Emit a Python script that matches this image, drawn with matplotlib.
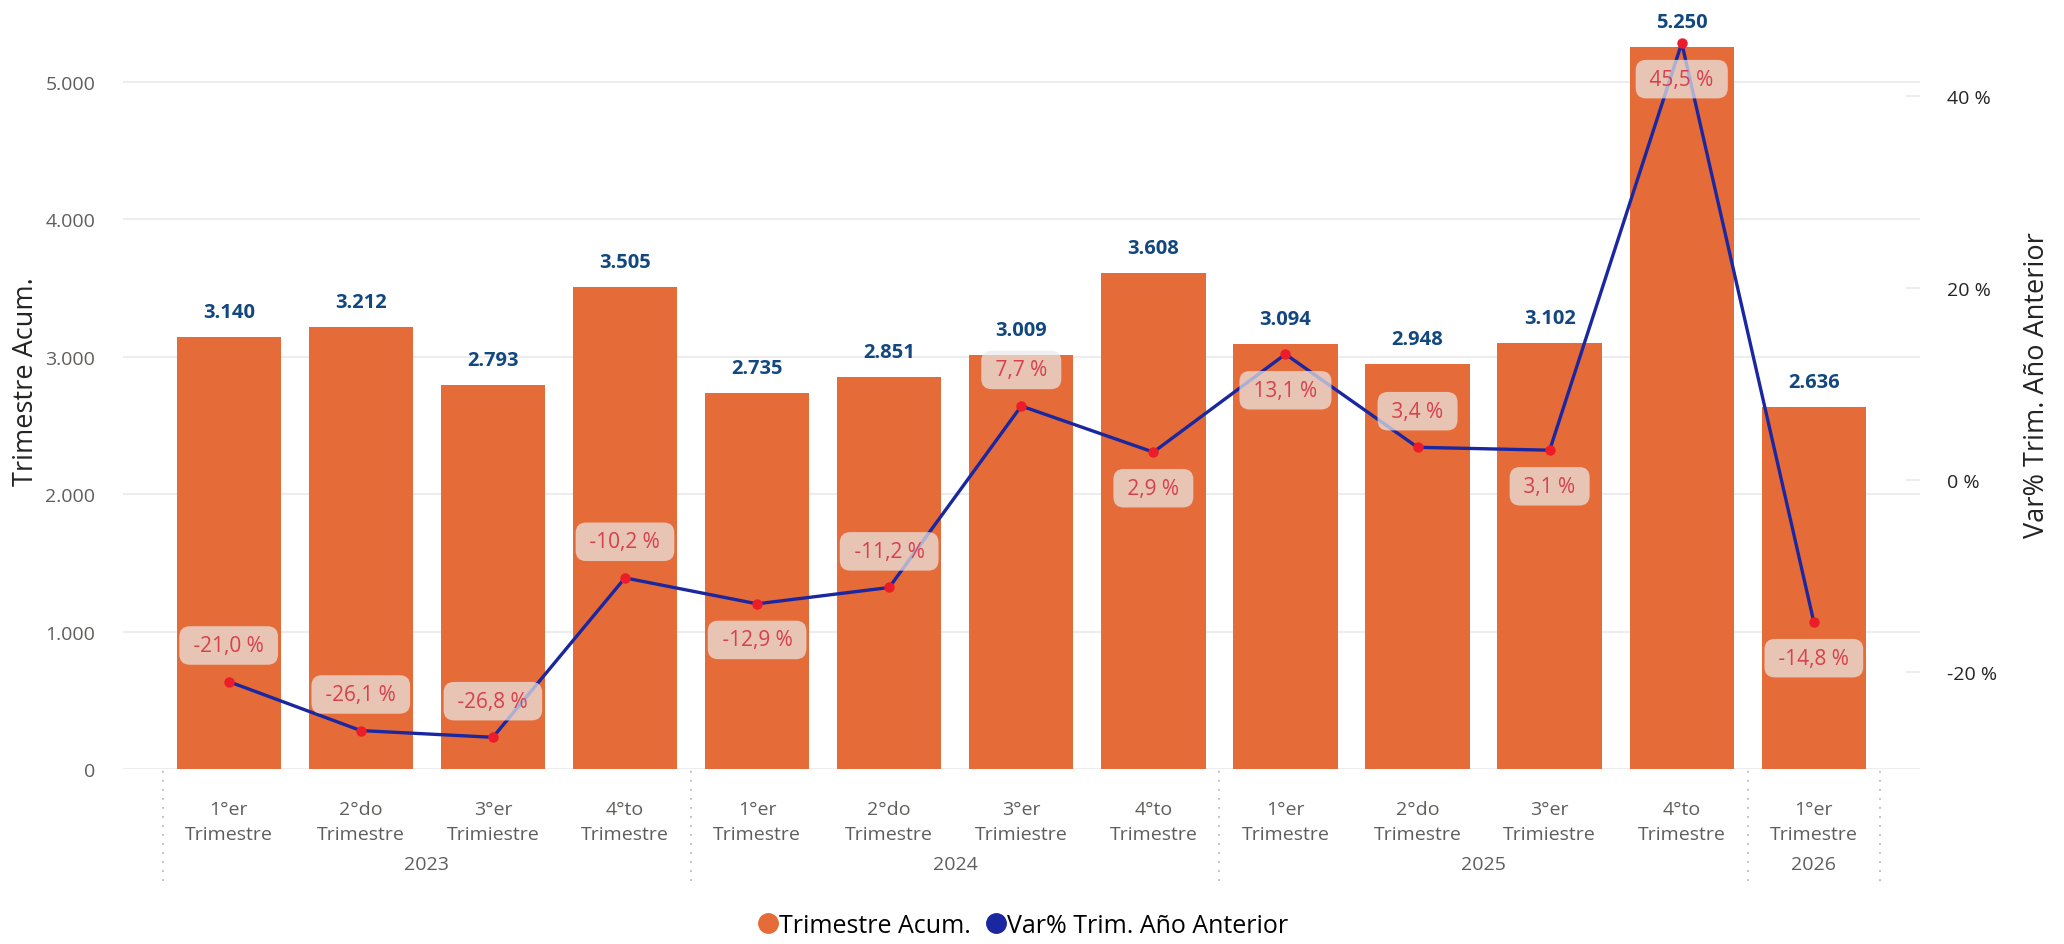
import matplotlib
matplotlib.use("Agg")
import matplotlib.pyplot as plt
from matplotlib.lines import Line2D
from matplotlib.ticker import FuncFormatter, FixedLocator

# ==========================================
# DATA
# ==========================================

quarters = [
    "1°er\nTrimestre", "2°do\nTrimestre", "3°er\nTrimiestre", "4°to\nTrimestre",
    "1°er\nTrimestre", "2°do\nTrimestre", "3°er\nTrimiestre", "4°to\nTrimestre",
    "1°er\nTrimestre", "2°do\nTrimestre", "3°er\nTrimiestre", "4°to\nTrimestre",
    "1°er\nTrimestre",
]

years = ["2023", "2024", "2025", "2026"]
year_sizes = [4, 4, 4, 1]

acum = [3140, 3212, 2793, 3505, 2735, 2851, 3009, 3608, 3094, 2948, 3102, 5250, 2636]

var_pct = [-21.0, -26.1, -26.8, -10.2, -12.9, -11.2, 7.7, 2.9, 13.1, 3.4, 3.1, 45.5, -14.8]

# where the % label sits relative to the point (1 = above, -1 = below)
label_side = [1, 1, 1, 1, -1, 1, 1, -1, -1, 1, -1, -1, -1]

# ==========================================
# STYLE
# ==========================================

plt.rcParams["font.family"] = ["Open Sans", "DejaVu Sans"]

BAR_COLOR = "#E56C38"
LINE_COLOR = "#1A27A0"
MARKER_COLOR = "#EC1C2A"
VALUE_COLOR = "#12487F"
PCT_COLOR = "#D8404E"
TICK_COLOR = "#605E5C"
GRID_COLOR = "#EDEDED"

def thousands(v, pos):
    return f"{int(v):,}".replace(",", ".")

def pct_text(v):
    return f" {v:.1f} % ".replace(".", ",")

# ==========================================
# FIGURE
# ==========================================

fig = plt.figure(figsize=(20.64, 9.45), dpi=100)
ax = fig.add_axes([0.0596, 0.1852, 0.8704, 0.7936])
ax2 = ax.twinx()

x = list(range(len(acum)))

ax.bar(x, acum, width=0.79, color=BAR_COLOR, zorder=2)

ax.set_xlim(-0.8, 12.8)
ax.set_ylim(0, 5455)
ax.yaxis.set_major_locator(FixedLocator([0, 1000, 2000, 3000, 4000, 5000]))
ax.yaxis.set_major_formatter(FuncFormatter(thousands))
ax.grid(axis="y", color=GRID_COLOR, linewidth=1.5, zorder=0)
ax.set_axisbelow(True)

for s in ax.spines.values():
    s.set_visible(False)
for s in ax2.spines.values():
    s.set_visible(False)

ax.tick_params(axis="y", length=0, pad=20, labelsize=14, labelcolor=TICK_COLOR)
ax.set_xticks(x)
ax.set_xticklabels(quarters, fontsize=14, color=TICK_COLOR, linespacing=1.5)
ax.tick_params(axis="x", length=0, pad=22)

# bar value labels
for xi, v in zip(x, acum):
    ax.annotate(thousands(v, None), (xi, v), xytext=(0, 18), textcoords="offset points",
                ha="center", va="center", fontsize=14.5, fontweight="bold", color=VALUE_COLOR)

# year labels and dotted separators
start = 0
bounds = [-0.5]
for yr, n in zip(years, year_sizes):
    center = start + (n - 1) / 2
    ax.text(center, -0.127, yr, transform=ax.get_xaxis_transform(),
            ha="center", va="center", fontsize=14, color=TICK_COLOR)
    start += n
    bounds.append(start - 0.5)

ax.vlines(bounds, -0.15, 0, transform=ax.get_xaxis_transform(), colors="#BDBBB9",
          linestyles=(0, (1, 4)), linewidth=1.3, clip_on=False)

# ==========================================
# LINE (SECONDARY AXIS)
# ==========================================

ax2.plot(x, var_pct, color=LINE_COLOR, linewidth=2.4, zorder=3)
ax2.plot(x, var_pct, "o", color=MARKER_COLOR, markersize=6.5, zorder=4)

ax2.set_ylim(-30.1, 48.0)
ax2.yaxis.set_major_locator(FixedLocator([-20, 0, 20, 40]))
ax2.yaxis.set_major_formatter(FuncFormatter(lambda v, p: f"{int(v)} %"))
ax2.tick_params(axis="y", direction="in", length=10, width=1.5, color=GRID_COLOR,
                pad=20, labelsize=14, labelcolor="#252423")

for xi, v, side in zip(x, var_pct, label_side):
    ax2.annotate(pct_text(v), (xi, v), xytext=(0, 26 * side), textcoords="offset points",
                 ha="center", va="center", fontsize=15, color=PCT_COLOR, zorder=5,
                 bbox=dict(boxstyle="round,pad=0.42,rounding_size=0.5",
                           facecolor="#E9EAE9", edgecolor="none", alpha=0.7))

# ==========================================
# AXIS TITLES & LEGEND
# ==========================================

fig.text(0.0125, 0.596, "Trimestre Acum.", rotation=90, ha="center", va="center",
         fontsize=19.5, color="#252423")
fig.text(0.987, 0.593, "Var% Trim. Año Anterior", rotation=90, ha="center", va="center",
         fontsize=19.5, color="#252423")

handles = [
    Line2D([], [], marker="o", linestyle="none", markersize=14, color=BAR_COLOR),
    Line2D([], [], marker="o", linestyle="none", markersize=14, color=LINE_COLOR),
]
fig.legend(handles, ["Trimestre Acum.", "Var% Trim. Año Anterior"], loc="center",
           bbox_to_anchor=(0.495, 0.02), ncol=2, frameon=False, fontsize=18,
           handletextpad=-0.05, columnspacing=0.5, handlelength=1.0)

fig.savefig("out.png", dpi=100)
plt.close(fig)
